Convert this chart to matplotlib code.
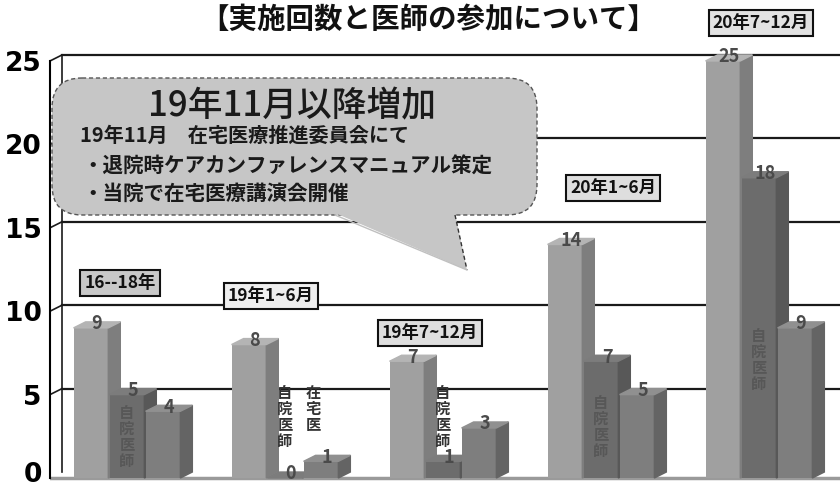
import numpy as np
import matplotlib
matplotlib.use("Agg")
from matplotlib import pyplot as plt
from matplotlib.patches import FancyBboxPatch, Polygon
from matplotlib.transforms import ScaledTranslation

plt.rcParams['font.family'] = ['Noto Sans CJK JP', 'DejaVu Sans']

# data
periods = ['16--18年', '19年1~6月', '19年7~12月', '20年1~6月', '20年7~12月']
sessions = [9, 8, 7, 14, 25]        # 実施回数
own_doctors = [5, 0, 1, 7, 18]      # 自院医師
home_doctors = [4, 1, 3, 5, 9]      # 在宅医
y_ticks = [0, 5, 10, 15, 20, 25]

title = '【実施回数と医師の参加について】'
callout_head = '19年11月以降増加'
callout_lines = ['19年11月　在宅医療推進委員会にて',
                 '・退院時ケアカンファレンスマニュアル策定',
                 '・当院で在宅医療講演会開催']

fig = plt.figure(figsize=(8.4, 4.88), dpi=100)
ax = fig.add_axes([50 / 840, 0.00676, 790 / 840, 0.9025])
xmin, xmax = -0.525, 4.475
ax.set_xlim(xmin, xmax)
ax.set_ylim(-0.4, 26.0)

groups = np.arange(len(periods))
w = 0.22
dx, dy = 0.076, 0.36
offsets = [-0.266, -0.038, 0.19]
styles = [('#a0a0a0', '#7e7e7e', '#b4b4b4'),
          ('#6c6c6c', '#585858', '#7c7c7c'),
          ('#7e7e7e', '#646464', '#909090')]

# back wall grid + floor
xb = xmin + dx
for t in y_ticks[1:]:
    ax.plot([xb, xmax], [t + dy, t + dy], color='#1a1a1a', lw=1.6, zorder=1)
    ax.plot([xmin, xb], [t, t + dy], color='#1a1a1a', lw=1.2, zorder=1)
ax.plot([xb, xb], [dy, 25 + dy], color='#1a1a1a', lw=1.2, zorder=1)
ax.plot([xmin, xmax], [0, 0], color='#9a9a9a', lw=2.5, zorder=2)

# 3d looking bars
for i, vals in enumerate([sessions, own_doctors, home_doctors]):
    front, side, top = styles[i]
    xs = groups + offsets[i]
    z = 3 + i
    ax.bar(xs, vals, width=w, color=front, zorder=z)
    for x, v in zip(xs, vals):
        x0, x1 = x - w / 2, x + w / 2
        ax.fill([x1, x1 + dx, x1 + dx, x1], [0, dy, v + dy, v], color=side, zorder=z)
        ax.fill([x0, x0 + dx, x1 + dx, x1], [v, v + dy, v + dy, v], color=top, zorder=z)
        ax.text(x + dx / 2, v + 0.25, str(v), ha='center', va='center',
                fontsize=13, fontweight='bold', color='#4a4a4a', zorder=10)

# vertical labels on the bars
def vlabel(x, y, s, color):
    ax.text(x, y, '\n'.join(s), ha='center', va='top', fontsize=11,
            fontweight='bold', color=color, linespacing=1.0, zorder=11)

vlabel(groups[1] + offsets[1], 5.6, '自院医師', '#333333')
vlabel(groups[1] + offsets[2] - 0.05, 5.6, '在宅医', '#333333')
vlabel(groups[2] + offsets[1], 5.6, '自院医師', '#333333')
vlabel(groups[0] + offsets[1], 4.4, '自院医師', '#575757')
vlabel(groups[3] + offsets[1], 5.0, '自院医師', '#575757')
vlabel(groups[4] + offsets[1], 9.0, '自院医師', '#575757')

ax.set_yticks(y_ticks)
ax.set_yticklabels([str(t) for t in y_ticks], family='DejaVu Sans',
                   fontsize=19, fontweight='bold')
ax.tick_params(axis='y', length=0, pad=6)
lab0 = ax.get_yticklabels()[0]
lab0.set_transform(lab0.get_transform() + ScaledTranslation(0, 4 / 72, fig.dpi_scale_trans))
ax.set_xticks([])
for s in ['top', 'right', 'bottom']:
    ax.spines[s].set_visible(False)
ax.spines['left'].set_bounds(0, 25)
ax.spines['left'].set_linewidth(1.5)

# overlay in pixel space for the callout and period boxes
ov = fig.add_axes([0, 0, 1, 1], zorder=5)
ov.set_xlim(0, 840)
ov.set_ylim(488, 0)
ov.axis('off')
ov.patch.set_alpha(0)

fill = '#c6c6c6'
box = FancyBboxPatch((52, 78), 485, 137, boxstyle='round,pad=0,rounding_size=30',
                     facecolor=fill, edgecolor='#555555', lw=1, ls=(0, (3, 2)))
ov.add_patch(box)
ov.add_patch(Polygon([(335, 213), (455, 213), (467, 270)], closed=True,
                     facecolor=fill, edgecolor='none'))
ov.plot([455, 467], [215, 270], color='#333333', lw=1, ls=(0, (3, 2)))
ov.plot([335, 467], [215, 270], color='#c0c0c0', lw=1)

ov.text(292, 106, callout_head, ha='center', va='center', fontsize=25,
        fontweight='medium', color='#1a1a1a')
ov.text(80, 135, callout_lines[0], ha='left', va='center', fontsize=14.5,
        fontweight='bold', color='#1a1a1a')
ov.text(82, 166, callout_lines[1], ha='left', va='center', fontsize=14.8,
        fontweight='bold', color='#1a1a1a')
ov.text(82, 193, callout_lines[2], ha='left', va='center', fontsize=14.8,
        fontweight='bold', color='#1a1a1a')

fig.text(428 / 840, 1 - 20 / 488, title, ha='center', va='center',
         fontsize=20.5, fontweight='bold', color='#111111')

# period tags
tag_pos = [(120, 283, '#c8c8c8'), (271, 296, '#eeeeee'), (430, 333, '#dedede'),
           (613, 188, '#dedede'), (761, 23, '#e2e2e2')]
for (px, py, fc), name in zip(tag_pos, periods):
    ov.text(px, py, name, ha='center', va='center', fontsize=12.5, fontweight='bold',
            color='#111111',
            bbox=dict(boxstyle='square,pad=0.25', facecolor=fc, edgecolor='#111111', lw=1.5))

fig.savefig('out.png', dpi=100)
